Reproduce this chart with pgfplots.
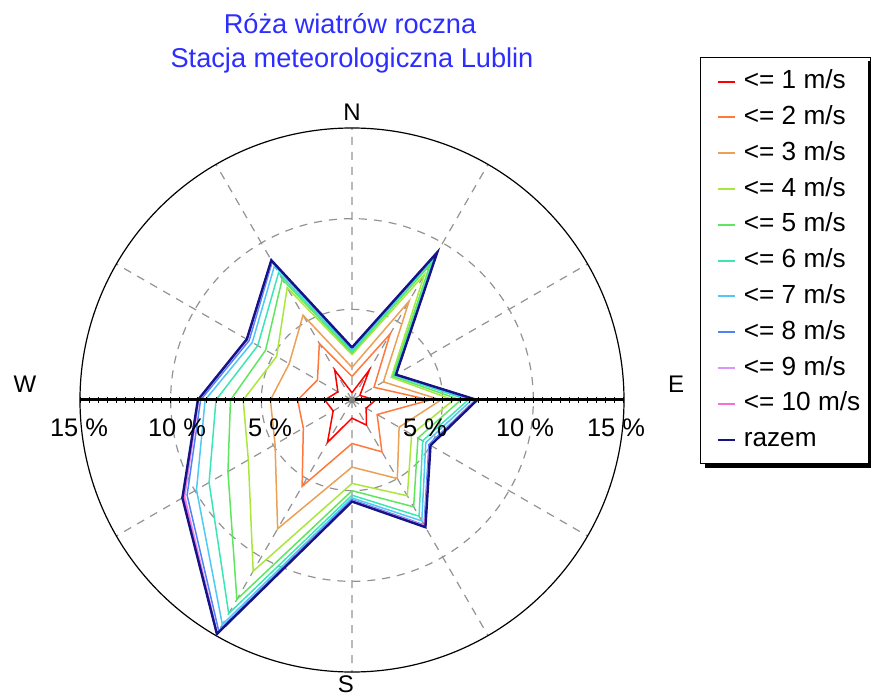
\documentclass[border=0pt]{standalone}
\usepackage{pgfplots}
\pgfplotsset{compat=1.18}
\usepackage{pgfplotstable}
\usepgfplotslibrary{polar}
\usetikzlibrary{calc}
\usepackage{fontspec}
\setmainfont{Liberation Sans}

\definecolor{c1}{RGB}{255,0,0}
\definecolor{c2}{RGB}{255,120,60}
\definecolor{c3}{RGB}{235,160,85}
\definecolor{c4}{RGB}{170,230,60}
\definecolor{c5}{RGB}{95,230,95}
\definecolor{c6}{RGB}{60,230,180}
\definecolor{c7}{RGB}{80,200,245}
\definecolor{c8}{RGB}{80,130,245}
\definecolor{c9}{RGB}{215,150,250}
\definecolor{c10}{RGB}{250,110,210}
\definecolor{c11}{RGB}{20,20,135}
\definecolor{titleblue}{RGB}{45,45,255}

\newcommand{\legtxt}[1]{\makebox[59.5pt][l]{#1}}

% angle (math convention: 90 = N, 0 = E), cumulative frequency in %
\pgfplotstableread{
ang s1 s2 s3 s4 s5 s6 s7 s8 s9 s10 s11
90 0.4 1.3 1.8 2.5 2.6 2.7 2.8 2.85 2.9 2.9 2.9
60 1.9 4.2 6.3 8.0 8.6 9.0 9.2 9.3 9.35 9.4 9.4
30 0.5 1.4 2.0 2.5 2.6 2.7 2.75 2.8 2.8 2.8 2.8
0 1.3 4.3 4.9 5.6 6.0 6.4 6.6 6.8 6.85 6.9 6.9
-30 0.9 1.6 3.0 3.8 4.2 4.5 4.7 4.9 4.95 5.0 5.0
-60 1.6 3.3 5.0 6.1 6.8 7.4 7.7 7.95 8.0 8.05 8.1
-90 1.0 2.4 3.7 4.6 5.0 5.25 5.4 5.5 5.55 5.6 5.6
-120 2.7 5.5 8.2 10.9 12.7 13.6 14.3 14.7 14.85 14.9 14.9
-150 1.2 3.1 4.9 6.6 7.9 9.1 9.9 10.5 10.65 10.7 10.8
-180 1.5 3.0 4.5 6.0 6.7 7.5 8.1 8.35 8.45 8.5 8.5
-210 0.9 2.2 4.0 4.8 5.5 6.0 6.35 6.55 6.65 6.7 6.7
-240 1.9 3.6 5.4 7.15 7.7 8.1 8.55 8.8 8.85 8.9 8.9
-270 0.4 1.3 1.8 2.5 2.6 2.7 2.8 2.85 2.9 2.9 2.9
}\rose

\begin{document}
\begin{tikzpicture}
\begin{polaraxis}[
  name=ax, at={(0,0)}, anchor=center,
  scale only axis, width=272pt, height=272pt,
  ymin=0, ymax=15,
  xtick={0,30,...,330}, ytick={5,10},
  xticklabels={}, yticklabels={},
  major tick length=0pt,
  grid=major,
  major grid style={gray!85, line width=0.6pt, dash pattern=on 4pt off 3.5pt},
  axis line style={black, line width=0.6pt},
  y axis line style={draw=none},
  clip=false,
  every axis plot/.append style={line width=0.75pt},
  legend cell align=left,
  legend image code/.code={\path (0pt,0pt); \draw[#1, line width=1pt] (5pt,0pt) -- (13.5pt,0pt);},
  legend style={
    at={(axis description cs:1.1397,1.1305)}, anchor=north west,
    draw=black, line width=0.6pt, fill=white,
    font=\fontsize{13.1}{14}\selectfont,
    inner xsep=3pt, inner ysep=5pt,
    row sep=3.9pt,
    nodes={text height=9.5pt, text depth=2.5pt, inner sep=1pt},
    /tikz/every odd column/.append style={column sep=3pt},
  },
]
\addplot[c1] table[x=ang,y=s1]{\rose}; \addlegendentry{\legtxt{<= 1 m/s}}
\addplot[c2] table[x=ang,y=s2]{\rose}; \addlegendentry{\legtxt{<= 2 m/s}}
\addplot[c3] table[x=ang,y=s3]{\rose}; \addlegendentry{\legtxt{<= 3 m/s}}
\addplot[c4] table[x=ang,y=s4]{\rose}; \addlegendentry{\legtxt{<= 4 m/s}}
\addplot[c5] table[x=ang,y=s5]{\rose}; \addlegendentry{\legtxt{<= 5 m/s}}
\addplot[c6] table[x=ang,y=s6]{\rose}; \addlegendentry{\legtxt{<= 6 m/s}}
\addplot[c7] table[x=ang,y=s7]{\rose}; \addlegendentry{\legtxt{<= 7 m/s}}
\addplot[c8] table[x=ang,y=s8]{\rose}; \addlegendentry{\legtxt{<= 8 m/s}}
\addplot[c9] table[x=ang,y=s9]{\rose}; \addlegendentry{\legtxt{<= 9 m/s}}
\addplot[c10] table[x=ang,y=s10]{\rose}; \addlegendentry{\legtxt{<= 10 m/s}}
\addplot[c11, line width=1.2pt] table[x=ang,y=s11]{\rose}; \addlegendentry{\legtxt{razem}}
\coordinate (O) at (axis cs:0,0);
\end{polaraxis}
% legend shadow
\fill[black] ($(O)+(176.5pt,-31.6pt)$) rectangle ($(O)+(260.5pt,-33.8pt)$);
\fill[black] ($(O)+(258.2pt,169.5pt)$) rectangle ($(O)+(260.5pt,-33.8pt)$);
% horizontal scale line
\draw[black, line width=1.5pt] ($(O)+(-136pt,0)$) -- ($(O)+(136pt,0)$);
\foreach \k in {-30,...,30} {
  \draw[black, line width=0.5pt] ($(O)+(\k*4.533pt,-1.3pt)$) -- ++(0,2.6pt);
}
\fill[gray] (O) circle (1.6pt);
% scale labels
\begin{scope}[every node/.style={font=\fontsize{12.7}{15}\selectfont, inner sep=0pt}]
\node at ($(O)+(-136.5pt,-14pt)$) {15 \%};
\node at ($(O)+(-87.5pt,-14pt)$) {10 \%};
\node at ($(O)+(-41pt,-14pt)$) {5 \%};
\node at ($(O)+(36.5pt,-14pt)$) {5 \%};
\node at ($(O)+(86.5pt,-14pt)$) {10 \%};
\node at ($(O)+(132pt,-14pt)$) {15 \%};
\end{scope}
% compass labels
\begin{scope}[every node/.style={font=\fontsize{12}{14}\selectfont, inner sep=0pt}]
\node at ($(O)+(0pt,144pt)$) {N};
\node at ($(O)+(162pt,8pt)$) {E};
\node at ($(O)+(-163.5pt,8pt)$) {W};
\node at ($(O)+(-3pt,-142pt)$) {S};
\end{scope}
% title
\begin{scope}[every node/.style={font=\fontsize{13.6}{16}\selectfont, text=titleblue, inner sep=0pt}]
\node at ($(O)+(-1pt,188pt)$) {Róża wiatrów roczna};
\node at ($(O)+(0pt,170pt)$) {Stacja meteorologiczna Lublin};
\end{scope}
\pgfresetboundingbox
\path[use as bounding box] ($(O)+(-176pt,-150pt)$) rectangle ($(O)+(259.5pt,200pt)$);
\end{tikzpicture}
\end{document}
